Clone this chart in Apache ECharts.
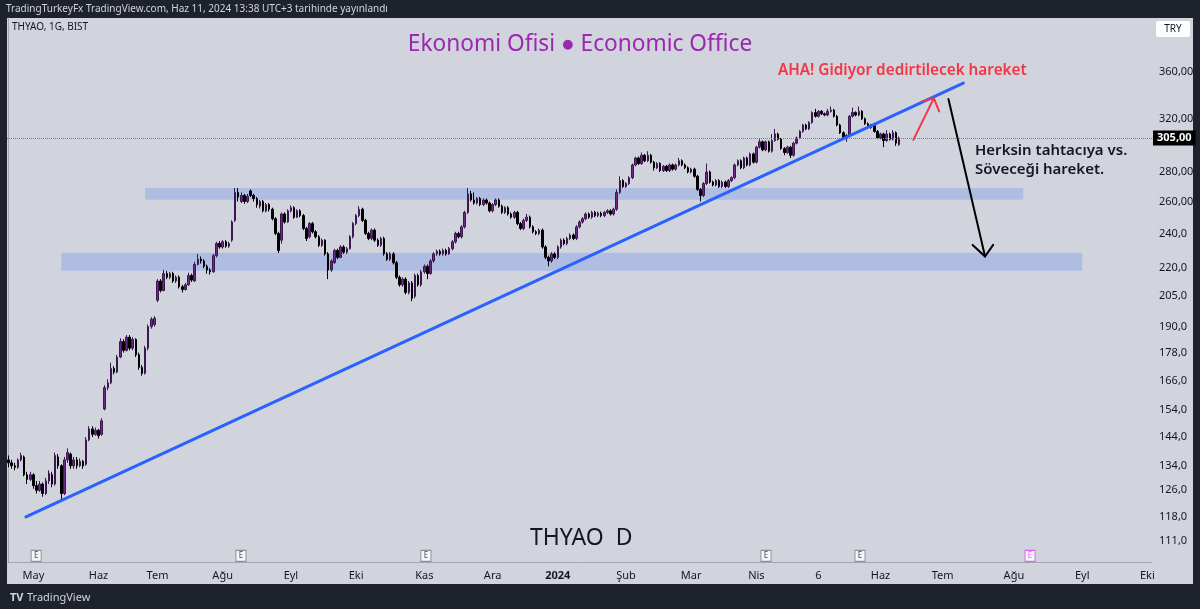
<!DOCTYPE html>
<html>
<head>
<meta charset="utf-8">
<script src="https://cdn.jsdelivr.net/npm/echarts@6/dist/echarts.min.js"></script>
<style>
  html, body { margin: 0; padding: 0; background: #1e222d; }
  #chart { width: 1200px; height: 609px; }
</style>
</head>
<body>
<div id="chart"></div>
<script>
// THYAO daily candles on BIST (18 Apr 2023 - 11 Jun 2024)
const firstDay = "2023-04-18";
const lastDay = "2024-10-02"; // the axis keeps running into the future
const holidays = [
    "2023-04-21", "2023-05-01", "2023-05-19", "2023-06-28", "2023-06-29", "2023-06-30",
    "2023-08-30", "2024-01-01", "2024-04-10", "2024-04-11", "2024-04-12", "2024-04-23", "2024-05-01"
];

// [open, close, low, high]
const candles = [
    [136,135,133.5,137.5],[135,134,133,136],[134,133.5,132.5,135],[133.5,136,133,136.5],[136,137.5,135.5,138.5],
    [137,131,130.5,137.5],[131,129.5,128,132],[129.5,131,129,132],[131,127.5,126.5,131.5],[127.5,126,125,129],
    [126,128,125.5,129],[128,125,124,128.5],[125,129,124.5,130],[129,131.5,128,132.5],[131,128,127,132],
    [128,137.5,127.5,138.5],[137,134,133,138],[134,125,123.3,134.5],[125,136,124.5,137],[136,138.5,135,140],
    [138,134,133,138.5],[134,136,133,137],[136,134,133,137],[134,135.5,133.5,136.5],[135.5,134,133,136],
    [134.5,143,134,144],[143,147,142.5,148],[147,145,144,148],[145,146.5,144.5,147.5],[146.5,144.5,143.5,147],
    [145,150,144.5,151],[154.5,163,154,164],[163,165,162,166.5],[165,171,164.5,173.5],[171,169.5,168.5,172],
    [169.5,176,169,177],[176,183,175.5,184.5],[183,179,178,184],[179,185,178.5,186],[185,180,179,186],
    [180,184,179,185],[184,177,176,184.5],[177,171.5,170.5,178],[171.5,169,168,172.5],[169,180,168.5,181],
    [180,190,179,191],[190,193.5,189,194.5],[191,194,190,195],[203,213,202,214],[213,208,207,214],
    [208,217,207.5,219],[217,215,214,218.5],[215,217,214,218],[217,213,212,218],[213,215,212,216],
    [215,210,209,216],[210,208.5,207,211],[208.5,211,208,212],[211,216,210.5,217.5],[216,213.5,212.5,217],
    [213,222,212.5,223.5],[222,225,221.5,228],[225,224,222.5,226.5],[224,221,220,225],[221,219,217,222],
    [219,218,216.5,220],[218,227,217.5,228],[227,234,226,235],[234,232,231,235.5],[232,235,231,236],
    [235,232.5,231.5,236],[232.5,234,231.5,235],[236,247,235,248],[248,266,247,269],[266,263,260,269],
    [260,264,259,266],[264,260,258.5,265],[260,263.5,259,265],[267,264,263,268],[264,262,260,265],
    [262,258,256,263],[257,260,255.5,261],[260,254,253,261],[254,258,253,259],[258,255,253.5,259],
    [255,249,248,256],[249,240,239,250],[240,230,228.5,241],[236,252,234,253],[252,247,246,253],
    [247,254,246.5,255],[254,256,253,257.5],[256,250,249,257],[250,254,249.5,255],[254,251,250,255],
    [251,243,242,252],[243,237,235.5,244],[238,246,237,247],[246,241,240,247],[241,238,237,242],
    [238,233,232,239],[233,236,232,237],[236,228,227,236.5],[228,219,214,229],[219,224,218,225],
    [223,230,222.5,231],[230,226,225,231],[226,232,225.5,233],[232,229,228,233],[229,231,228,232],
    [231,238,230.5,239],[238,246,237,247],[246,251,245,252],[251,255,250,257],[255,248,247,256],
    [248,240,239,249],[240,237,236,241],[237,242,236,243],[242,236,235,243],[236,233,232,237],
    [233,237,232,238],[237,228,227,238],[228,225,224,229],[225,228,224,229],[228,223,222,229],
    [223,215,214,224],[215,211,210,216],[211,214,210,215],[214,207,206,215],[207,212,206,213],
    [212,204,202.5,213],[205,216,204,217],[216,211,210,217],[211,218,210,219],[218,221,217,222],
    [221,217,214,222],[217,224,216.5,225],[224,228,223,229],[228,229.5,227,230.5],[229.5,228,227,230.5],
    [228,230,227,231],[230,228,227,231],[228,231,227.5,232],[231,235,230,236],[235,240,234,241],
    [240,238,237,241],[238,244,237,245],[244,253,243,254],[253,265,252,269],[265,261,260,267],
    [261,259,258,266],[259,262,258,263],[262,258,257,263],[258,261,257,262],[261,259,258,262],
    [259,254,253,260],[254,258,253,259],[258,261,257,262],[261,257,256,262],[257,253,252,258],
    [253,256,252,257],[256,252,251,257],[252,250,249,253],[250,253,249,254],[253,246,245,254],
    [246,243,242,247],[243,248,242,249],[248,250,247,252],[250,244,243,251],[244,241,240,245],
    [241,240,239,242],[240,242,239,243],[242,232,231,243],[232,226,225,233],[226,224,221,227],
    [224,228,223,229],[228,226,225,229],[226,232,225,233],[232,236,231,237],[236,234,233,237],
    [234,237,233,238],[237,239,236,240],[239,237,236,240],[237,244,236,245],[244,247,243,248],
    [247,249,246,250],[249,252,248,253],[252,250,249,253],[250,253,249,254],[253,251,250,254],
    [251,252.5,250,253.5],[252.5,251,250,253.5],[251,253,250,254],[253,254,252,255],[254,252,251,255],
    [252,255,251,256],[255,266,254,268],[266,274,265,277],[274,270,269,275],[270,272,269,273],
    [272,276,271,277],[276,285,275,286],[285,290,284,291],[290,286,285,291],[286,292,285,294],
    [292,288,287,293],[288,292,287,295],[292,287,286,293],[287,283,281,288],[283,286,282,287],
    [286,281,280,287],[281,284,280,285],[284,281,280,285],[281,285,280,286],[285,282,281,286],
    [282,285,281,286],[285,288,284,290],[288,285,284,289],[285,283,282,286],[283,280,279,284],
    [280,282,279,283],[282,277,276,283],[277,268,267,278],[268,264,260,269],[264,272,263,273],
    [272,280,271,286],[280,273,272,281],[273,271,270,274],[271,274,270,275],[274,270,269,275],
    [270,273,269,274],[273,270,269,274],[270,274,269,275],[274,276,273,277],[276,285,275,286],
    [285,288,284,289],[288,283,282,289],[283,290,282,291],[290,285,284,291],[285,293,284,294],
    [293,287,286,294],[287,298,286,299],[298,302,297,304],[302,296,295,303],[296,302,295,303],
    [302,295,294,303],[295,303,294,308],[303,308,302,312],[308,304,303,309],[304,297,296,305],
    [297,294,292,298],[294,298,293,299],[298,292,290,299],[292,301,291,302],[301,305,300,306],
    [305,310,304,311],[310,315,309,316],[315,312,311,316],[312,317,311,318],[317,325,316,326],
    [325,322,321,328],[322,326,321,327],[326,324,323,327],[324,323,322,325],[323,326,322,328],
    [326,327,325,330],[327,322,321,328],[322,315,314,323],[315,309,308,316],[309,305,304,310],
    [305,307,302,308],[307,322,306,323],[322,325,321,329],[325,323,322,326],[323,326,322,330],
    [326,320,319,327],[320,316,315,321],[316,313,312,317],[313,315,312,316],[315,310,309,316],
    [310,305,304,311],[305,308,304,309],[308,303,298,309],[303,308,302,311],[308,304,303,309],
    [304,309,303,311],[309,301,299,310],[300,305,299,306]
];

const xTickLabels = [
    ["2023-05-02", "May"], ["2023-06-01", "Haz"], ["2023-07-03", "Tem"], ["2023-08-01", "Ağu"],
    ["2023-09-01", "Eyl"], ["2023-10-02", "Eki"], ["2023-11-01", "Kas"], ["2023-12-01", "Ara"],
    ["2024-01-02", "2024"], ["2024-02-01", "Şub"], ["2024-03-01", "Mar"], ["2024-04-01", "Nis"],
    ["2024-05-06", "6"], ["2024-06-03", "Haz"], ["2024-07-01", "Tem"], ["2024-08-01", "Ağu"],
    ["2024-09-02", "Eyl"], ["2024-10-01", "Eki"]
];
const priceTicks = [360, 320, 280, 260, 240, 220, 205, 190, 178, 166, 154, 144, 134, 126, 118, 111];
const lastPrice = 305;

// drawings: [bar index, price]
const bandUpper = [[44, 269], [327, 261.2]];
const bandLower = [[17, 228.7], [346, 218.5]];
const trendLine = [[5.6, 117.9], [307.7, 350]];
const redArrow = [[291.6, 303.5], [298.2, 337]];
const redArrowHead = [[294.3, 334.2], [298.2, 337], [299.9, 325.9]];
const blackArrow = [[302.9, 336.2], [314.7, 226.5]];
const blackArrowHead = [[310.7, 233.2], [314.7, 226.5], [317.3, 233.2]];
const earningsPast = [8.9, 74.9, 134.5, 244.1, 274.4];
const earningsNext = [329.2];

function tradingDays() {
    const out = [];
    const d = new Date(firstDay + "T00:00:00Z");
    const end = new Date(lastDay + "T00:00:00Z");
    while (d <= end) {
        const wd = d.getUTCDay();
        const s = d.toISOString().slice(0, 10);
        if (wd !== 0 && wd !== 6 && holidays.indexOf(s) < 0) out.push(s);
        d.setUTCDate(d.getUTCDate() + 1);
    }
    return out;
}

const days = tradingDays();
const tickMap = {};
xTickLabels.forEach(([d, l]) => { tickMap[d] = l; });

const fmtPrice = v => (v >= 250 ? v.toFixed(2) : v.toFixed(1)).replace(".", ",");

const FONT = "'Noto Sans', sans-serif";
const yMin = 105.27, yMax = 412;
const eMarkerPrice = 106.9;

const chart = echarts.init(document.getElementById("chart"));

function drawLine(data, color, width) {
    return {
        type: "line",
        xAxisIndex: 1,
        data,
        symbol: "none",
        silent: true,
        z: 5,
        lineStyle: { color, width, cap: "round", join: "round" },
    };
}

function eMarkers(list, color, textColor) {
    return {
        type: "scatter",
        xAxisIndex: 1,
        data: list.map(i => [i, eMarkerPrice]),
        symbol: "rect",
        symbolSize: [10, 11],
        silent: true,
        z: 6,
        itemStyle: { color: "#ffffff", borderColor: color, borderWidth: 1 },
        label: {
            show: true, position: "inside", formatter: "E",
            fontSize: 8, color: textColor, fontFamily: FONT,
        },
    };
}

chart.setOption({
    backgroundColor: "#1e222d",
    animation: false,
    grid: { left: 7, right: 48, top: 18, bottom: 47 },
    xAxis: [{
        type: "category",
        data: days,
        boundaryGap: true,
        axisLine: { show: true, lineStyle: { color: "#a4a7b0" } },
        axisTick: { show: false },
        splitLine: { show: false },
        axisLabel: {
            interval: (idx, val) => tickMap[val] !== undefined,
            formatter: val => (tickMap[val] === "2024" ? "{b|2024}" : tickMap[val]),
            color: "#131722",
            fontSize: 11,
            fontFamily: FONT,
            margin: 8,
            rich: { b: { fontWeight: "bold", fontSize: 11, color: "#131722", fontFamily: FONT } },
        },
    }, {
        type: "value",
        min: -0.5,
        max: days.length - 0.5,
        show: false,
    }],
    yAxis: {
        type: "log",
        logBase: 10,
        min: yMin,
        max: yMax,
        position: "right",
        axisLine: { show: true, lineStyle: { color: "#a4a7b0" } },
        axisTick: { show: false },
        splitLine: { show: false },
        axisLabel: {
            customValues: priceTicks,
            formatter: v => fmtPrice(v),
            color: "#131722",
            fontSize: 11,
            fontFamily: FONT,
            margin: 7,
        },
    },
    graphic: [
        { type: "rect", shape: { x: 7, y: 18, width: 1186, height: 566 }, style: { fill: "#d1d4dc" }, z: -10, silent: true },
        { type: "text", x: 6, y: 9, style: { text: "TradingTurkeyFx TradingView.com, Haz 11, 2024 13:38 UTC+3 tarihinde yayınlandı", fill: "#d1d4dc", font: "10px " + FONT, verticalAlign: "middle" } },
        { type: "text", x: 12, y: 27, style: { text: "THYAO, 1G, BIST", fill: "#131722", font: "10px " + FONT, verticalAlign: "middle" } },
        { type: "text", x: 580, y: 45, style: { text: "Ekonomi Ofisi ● Economic Office", fill: "#9c27b0", font: "22.7px " + FONT, align: "center", verticalAlign: "middle" } },
        { type: "text", x: 778, y: 71, style: { text: "AHA! Gidiyor dedirtilecek hareket", fill: "#f23645", font: "600 15.3px " + FONT, verticalAlign: "middle" } },
        { type: "text", x: 975, y: 151, style: { text: "Herksin tahtacıya vs.", fill: "#131722", font: "600 15px " + FONT, verticalAlign: "middle" } },
        { type: "text", x: 975, y: 170, style: { text: "Söveceği hareket.", fill: "#131722", font: "600 15px " + FONT, verticalAlign: "middle" } },
        { type: "text", x: 530, y: 538, style: { text: "THYAO  D", fill: "#131722", font: "23px " + FONT, verticalAlign: "middle" } },
        { type: "rect", shape: { x: 1156, y: 21, width: 34, height: 16, r: 2 }, style: { fill: "#ffffff" }, z: 10 },
        { type: "text", x: 1173, y: 29, z: 11, style: { text: "TRY", fill: "#131722", font: "10px " + FONT, align: "center", verticalAlign: "middle" } },
        { type: "text", x: 10, y: 598, style: { text: "TV", fill: "#d1d4dc", font: "bold 11px " + FONT, verticalAlign: "middle" } },
        { type: "text", x: 27, y: 598, style: { text: "TradingView", fill: "#d1d4dc", font: "11px " + FONT, verticalAlign: "middle" } },
    ],
    series: [
        {
            type: "candlestick",
            data: candles,
            barWidth: 2,
            z: 3,
            itemStyle: {
                color: "#6a2a85",
                color0: "#000000",
                borderColor: "#3d1750",
                borderColor0: "#000000",
                borderWidth: 1,
            },
            markArea: {
                silent: true,
                itemStyle: { color: "rgba(41, 98, 255, 0.2)" },
                data: [
                    [{ coord: bandUpper[0] }, { coord: bandUpper[1] }],
                    [{ coord: bandLower[0] }, { coord: bandLower[1] }],
                ],
            },
            markLine: {
                silent: true,
                symbol: "none",
                data: [{ yAxis: lastPrice }],
                lineStyle: { color: "#787b86", type: "dotted", width: 1 },
                label: {
                    position: "end",
                    distance: 1,
                    formatter: fmtPrice(lastPrice),
                    backgroundColor: "#000000",
                    color: "#ffffff",
                    fontWeight: "bold",
                    fontSize: 11,
                    fontFamily: FONT,
                    padding: [2, 4],
                },
            },
        },
        drawLine(trendLine, "#2962ff", 3),
        drawLine(redArrow, "#f23645", 2),
        drawLine(redArrowHead, "#f23645", 2),
        drawLine(blackArrow, "#000000", 2),
        drawLine(blackArrowHead, "#000000", 2),
        eMarkers(earningsPast, "#787b86", "#131722"),
        eMarkers(earningsNext, "#e040fb", "#e040fb"),
    ],
});
</script>
</body>
</html>
